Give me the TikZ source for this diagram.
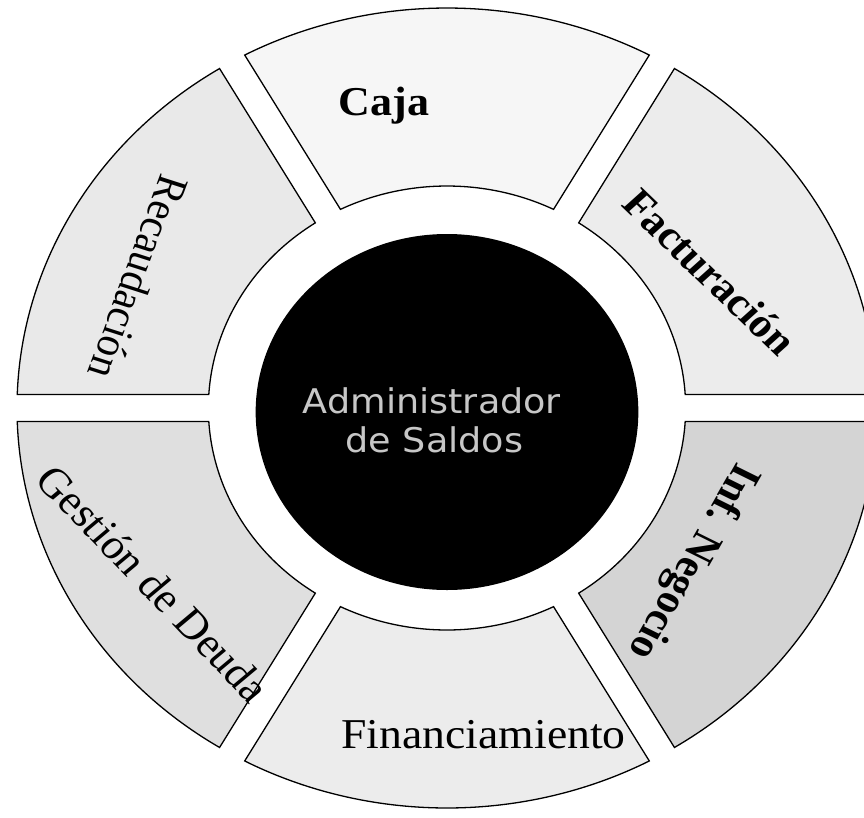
\documentclass[tikz,border=0pt]{standalone}
\usepackage{fontspec}
\setmainfont{Liberation Serif}
\newfontfamily\dejasans{DejaVu Sans}
\tikzset{
  seg/.style={draw=black, line width=1.3pt},
  lbl/.style={font=\fontsize{41}{45}\selectfont, text=black, inner sep=0pt},
  lblb/.style={font=\fontsize{41}{45}\selectfont\bfseries, text=black, inner sep=0pt},
  ctr/.style={font=\dejasans\fontsize{34}{40}\selectfont, text=black!22, inner sep=0pt},
}
\begin{document}
\begin{tikzpicture}[x=1pt,y=1pt]
\useasboundingbox (0,0) rectangle (864,-817);
\fill[white] (0,0) rectangle (864,-817);
\clip (0,0) rectangle (864,-817);
\begin{scope}[shift={(447,-408)}, xscale=1.075, transform shape]
  \foreach \c/\s in {90/7, 30/15, -30/34, -90/15, 210/25, 150/17} {
    \filldraw[seg, fill=gray!\s]
      (\c-30+1.934:400) arc[start angle=\c-30+1.934, end angle=\c+30-1.934, radius=400]
      -- (\c+30-3.487:222) arc[start angle=\c+30-3.487, end angle=\c-30+3.487, radius=222]
      -- cycle;
  }
  \fill[black] (0,-4) circle[radius=178];
  \node[lblb, anchor=base] (caja) at (-58.6,293) {Caja};
  \node[lblb, rotate=-46] (fact) at (244.7,136) {Facturación};
  \node[lblb, rotate=-118] (infneg) at (228,-153) {Inf. Negocio};
  \node[lbl, anchor=base, font=\fontsize{42.5}{46}\selectfont] (finan) at (34,-340) {Financiamiento};
  \node[lbl, rotate=-48, font=\fontsize{42}{46}\selectfont] (gestion) at (-273,-175.5) {Gestión de Deuda};
  \node[lbl, rotate=-109] (recaud) at (-286.5,131) {Recaudación};
  \node[ctr, anchor=base] (adm1) at (-14,-5) {Administrador};
  \node[ctr, anchor=base] (adm2) at (-11.6,-44) {de Saldos};
\end{scope}
\end{tikzpicture}
\end{document}
